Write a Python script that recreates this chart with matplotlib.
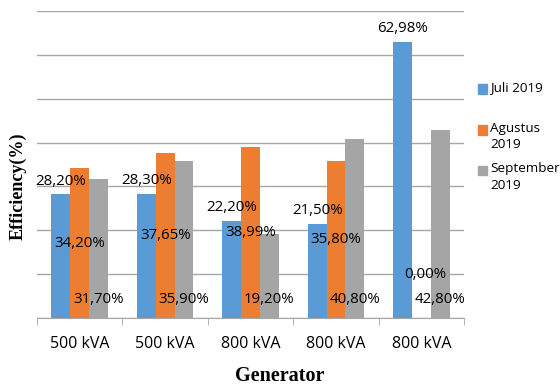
import numpy as np
import matplotlib.pyplot as plt
from matplotlib.patches import Rectangle

# efficiency per generator and month (%)
generators = ["500 kVA", "500 kVA", "800 kVA", "800 kVA", "800 kVA"]
juli = [28.20, 28.30, 22.20, 21.50, 62.98]
agustus = [34.20, 37.65, 38.99, 35.80, 0.00]
september = [31.70, 35.90, 19.20, 40.80, 42.80]
series_names = ["Juli 2019", "Agustus\n2019", "September\n2019"]
colors = ["#5B9BD5", "#ED7D31", "#A5A5A5"]

fig = plt.figure(figsize=(5.6, 3.87), dpi=100)
ax = fig.add_axes([0.066, 0.178, 0.763, 0.794])

x = np.arange(len(generators))
w = 0.22
lbl_font = dict(fontsize=10.8, family="Open Sans", color="black")

b1 = ax.bar(x - w, juli, w, color=colors[0], zorder=3)
b2 = ax.bar(x, agustus, w, color=colors[1], zorder=3)
b3 = ax.bar(x + w, september, w, color=colors[2], zorder=3)

def pct(v):
    return f"{v:.2f}%".replace(".", ",")

for xi, v in zip(x - w, juli):
    ax.text(xi, v + 1.3, pct(v), ha="center", va="bottom", zorder=4, **lbl_font)
for xi, v in zip(x, agustus):
    y = v / 2 if v > 0 else 10
    ax.text(xi + (0.05 if v == 0 else 0), y, pct(v), ha="center", va="center", zorder=4, **lbl_font)
for xi, v in zip(x + w, september):
    ax.text(xi, 4.3, pct(v), ha="center", va="center", zorder=4, **lbl_font)

ax.set_xlim(-0.5, len(generators) - 0.5)
ax.set_ylim(0, 70)
ax.set_yticks(np.arange(0, 71, 10))
ax.yaxis.grid(True, color="#A6A6A6", linewidth=1.0, zorder=0)
ax.tick_params(axis="y", left=False, labelleft=False)

ax.set_xticks(x)
ax.set_xticklabels(generators, family="Open Sans", fontsize=11.5)
ax.set_xticks(np.arange(-0.5, len(generators)), minor=True)
ax.tick_params(axis="x", which="major", length=0, pad=13)
ax.tick_params(axis="x", which="minor", length=5, color="#A6A6A6", direction="out")

for s in ["top", "right", "left"]:
    ax.spines[s].set_visible(False)
ax.spines["bottom"].set_color("#A6A6A6")

fig.text(0.5, 0.003, "Generator", ha="center", va="bottom",
         family="Liberation Serif", fontweight="bold", fontsize=14.5)
fig.text(0.032, 0.52, "Efficiency(%)", ha="center", va="center", rotation=90,
         family="Liberation Serif", fontweight="bold", fontsize=13)

# legend on the right
leg_y = [89, 130, 170]
for name, c, yp in zip(series_names, colors, leg_y):
    fy = 1 - yp / 387
    fig.patches.append(Rectangle((478 / 560, fy - 4.5 / 387), 9 / 560, 9 / 387,
                                 transform=fig.transFigure, color=c))
    fig.text(490 / 560, fy + 8 / 387, name, ha="left", va="top",
             family="Open Sans", fontsize=9.7, linespacing=1.35)

fig.savefig("out.png", dpi=100)
